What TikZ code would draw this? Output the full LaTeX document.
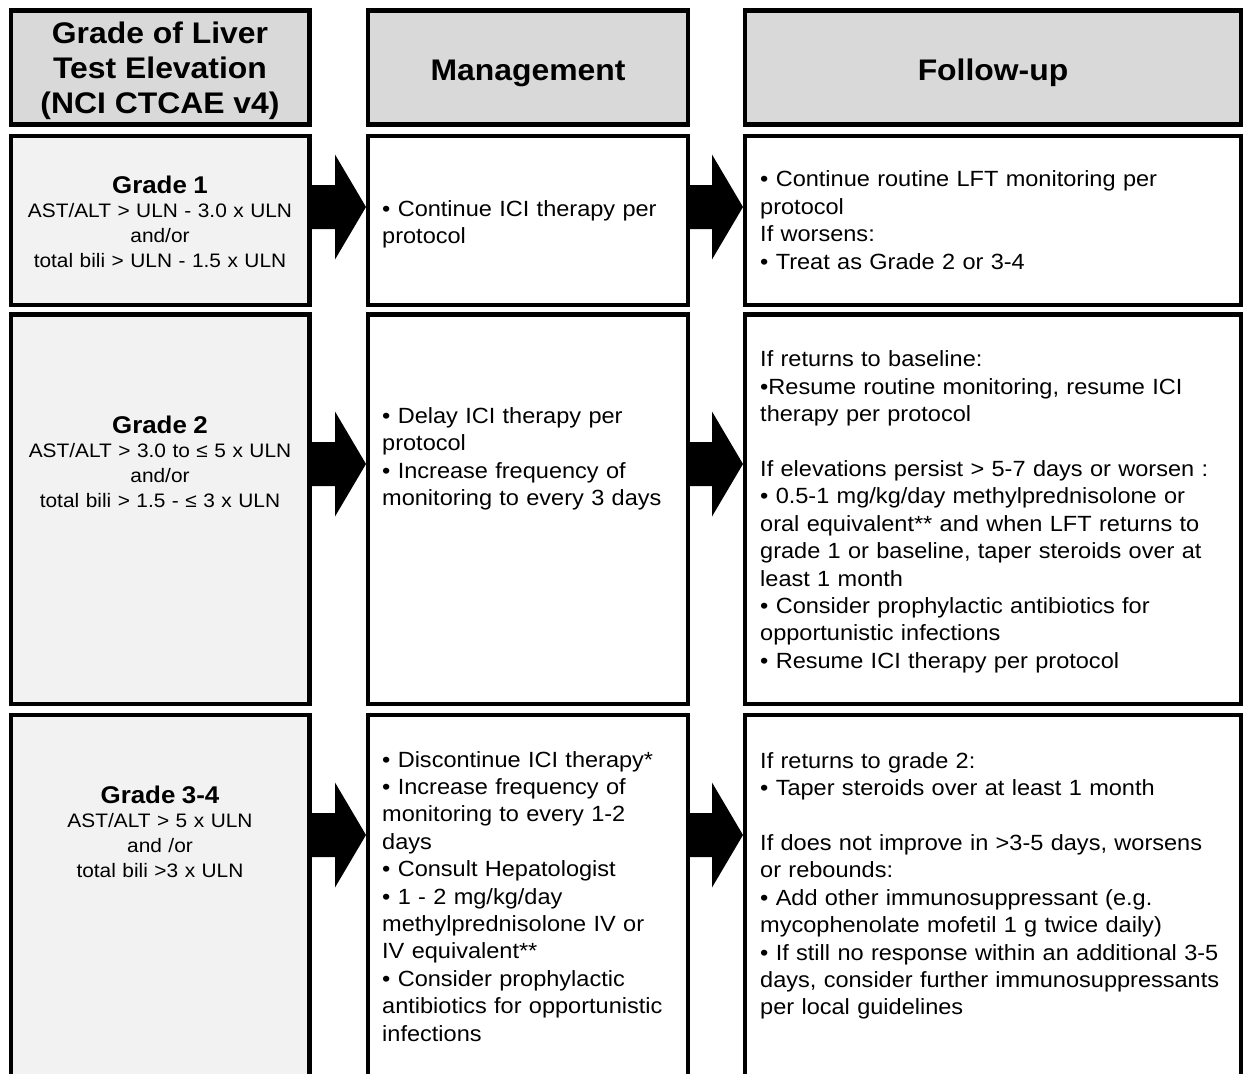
\documentclass[tikz,border=0pt]{standalone}
\usepackage{fontspec}
\setmainfont{Liberation Sans}[FakeStretch=1.07]
\usetikzlibrary{calc}
\definecolor{headgray}{HTML}{D9D9D9}
\definecolor{gradegray}{HTML}{F2F2F2}
\newcommand{\gradetitlefont}{\bfseries\fontsize{24.2}{24.6}\selectfont}
\begin{document}
\begin{tikzpicture}[x={(1pt,0pt)}, y={(0pt,-1pt)},
  cell/.style={draw=black, line width=4.3pt, rectangle, anchor=north west,
    inner sep=0pt, outer sep=0pt},
  headcell/.style={cell, fill=headgray},
  gradecell/.style={cell, fill=gradegray},
  plaincell/.style={cell, fill=white},
  headtext/.style={anchor=north, inner sep=0pt, align=center,
    font=\bfseries\fontsize{29.8}{35}\selectfont},
  gradetext/.style={anchor=north, inner sep=0pt, align=center, text width=296pt,
    font=\fontsize{19.5}{24.6}\selectfont},
  bodytext/.style={anchor=north west, inner sep=0pt, align=left, text width=470pt,
    font=\fontsize{22}{27.4}\selectfont},
  blockarrow/.style={fill=black, draw=none}
]
\useasboundingbox (0,0) rectangle (1244,1073);
\fill[white] (0,0) rectangle (1244,1073);
\clip (0,0) rectangle (1244,1073);

% column headers
\node[headcell, minimum width=298.5pt, minimum height=114pt] (h1) at (11,10.5) {};
\node[headcell, minimum width=320pt,   minimum height=114pt] (h2) at (368,10.5) {};
\node[headcell, minimum width=496pt,   minimum height=114pt] (h3) at (745,10.5) {};

% grade 1 row
\node[gradecell, minimum width=298.5pt, minimum height=169pt] (g1) at (11,136) {};
\node[plaincell, minimum width=320pt,   minimum height=169pt] (m1) at (368,136) {};
\node[plaincell, minimum width=496pt,   minimum height=169pt] (f1) at (745,136) {};

% grade 2 row
\node[gradecell, minimum width=298.5pt, minimum height=389.5pt] (g2) at (11,314.5) {};
\node[plaincell, minimum width=320pt,   minimum height=389.5pt] (m2) at (368,314.5) {};
\node[plaincell, minimum width=496pt,   minimum height=389.5pt] (f2) at (745,314.5) {};

% grade 3-4 row (runs on past the lower edge)
\node[gradecell, minimum width=298.5pt, minimum height=400pt] (g3) at (11,715) {};
\node[plaincell, minimum width=320pt,   minimum height=400pt] (m3) at (368,715) {};
\node[plaincell, minimum width=496pt,   minimum height=400pt] (f3) at (745,715) {};

% header texts
\node[headtext] (h1t) at (160,18.5) {\strut Grade of Liver\\Test Elevation\\(NCI CTCAE v4)};
\node[headtext] (h2t) at (528,55.5) {\strut Management};
\node[headtext] (h3t) at (993,55.5) {\strut Follow-up};

% grade texts
\node[gradetext] (g1t) at (160,175.5) {\strut{\gradetitlefont Grade 1}\\AST/ALT > ULN - 3.0 x ULN\\and/or\\total bili > ULN - 1.5 x ULN};
\node[gradetext] (g2t) at (160,415.5) {\strut{\gradetitlefont Grade 2}\\AST/ALT > 3.0 to ≤ 5 x ULN\\and/or\\total bili > 1.5 - ≤ 3 x ULN};
\node[gradetext] (g3t) at (160,785.5) {\strut{\gradetitlefont Grade 3-4}\\AST/ALT > 5 x ULN\\and /or\\total bili >3 x ULN};

% management texts
\node[bodytext] (m1t) at (382,196.8) {\strut • Continue ICI therapy per\\protocol};
\node[bodytext] (m2t) at (382,404.1) {\strut • Delay ICI therapy per\\protocol\\• Increase frequency of\\monitoring to every 3 days};
\node[bodytext] (m3t) at (382,747.8) {\strut • Discontinue ICI therapy*\\• Increase frequency of\\monitoring to every 1-2\\days\\• Consult Hepatologist\\• 1 - 2 mg/kg/day\\methylprednisolone IV or\\IV equivalent**\\• Consider prophylactic\\antibiotics for opportunistic\\infections};

% follow-up texts
\node[bodytext] (f1t) at (760,167.5) {\strut • Continue routine LFT monitoring per\\protocol\\If worsens:\\• Treat as Grade 2 or 3-4};
\node[bodytext] (f2t) at (760,347.5) {\strut If returns to baseline:\\•Resume routine monitoring, resume ICI\\therapy per protocol\\[27.4pt]If elevations persist > 5-7 days or worsen :\\• 0.5-1 mg/kg/day methylprednisolone or\\oral equivalent** and when LFT returns to\\grade 1 or baseline, taper steroids over at\\least 1 month\\• Consider prophylactic antibiotics for\\opportunistic infections\\• Resume ICI therapy per protocol};
\node[bodytext] (f3t) at (760,749) {\strut If returns to grade 2:\\• Taper steroids over at least 1 month\\[27.4pt]If does not improve in >3-5 days, worsens\\or rebounds:\\• Add other immunosuppressant (e.g.\\mycophenolate mofetil 1 g twice daily)\\• If still no response within an additional 3-5\\days, consider further immunosuppressants\\per local guidelines};

% block arrows between the columns
\foreach \src/\dst/\yy [count=\i] in {g1/m1/207, m1/f1/207, g2/m2/464, m2/f2/464, g3/m3/835, m3/f3/835} {
  \coordinate (as\i) at (\src.east |- 0,\yy);
  \coordinate (ae\i) at (\dst.west |- 0,\yy);
  \fill[blockarrow] (as\i) ++(0,-22) -- ($(ae\i)+(-33,-22)$) -- ($(ae\i)+(-33,-52.5)$)
    -- ($(ae\i)+(-2,0)$) -- ($(ae\i)+(-33,52.5)$) -- ($(ae\i)+(-33,22)$)
    -- ($(as\i)+(0,22)$) -- cycle;
}
\end{tikzpicture}
\end{document}
